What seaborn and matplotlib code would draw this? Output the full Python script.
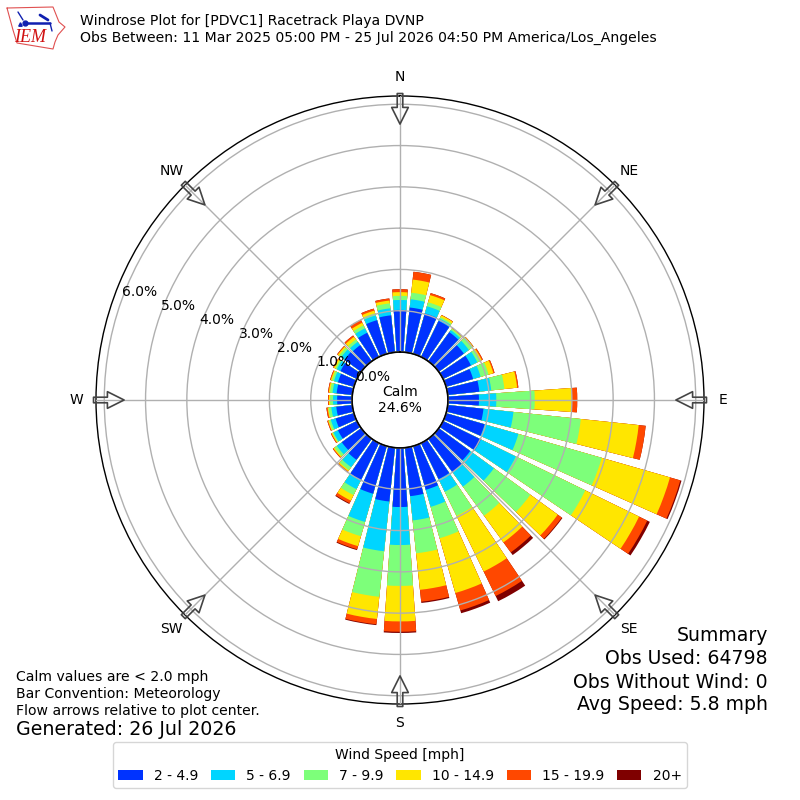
import numpy as np
import pandas as pd
import seaborn as sns
import matplotlib
matplotlib.use("Agg")
import matplotlib.pyplot as plt
from matplotlib.patches import Patch

# cumulative percent of obs per 10 degree bin, 0 to 350 clockwise from N
directions = list(range(0, 360, 10))
upto_5 = [1.02, 1.09, 1.02, .97, .87, .75, .75, .68, .77, .75, .87, .97,
          1.02, .94, 1.0, .97, 1.1, 1.18, 1.43, 1.31, 1.2, .99, .63, .58,
          .51, .46, .39, .36, .38, .40, .44, .50, .48, .65, .85, .9]
upto_7 = [1.26, 1.29, 1.20, 1.03, .93, .90, .92, .87, 1.06, 1.17, 1.6, 1.82,
          1.96, 1.65, 1.43, 1.31, 1.53, 1.77, 2.35, 2.52, 1.91, 1.24, .85, .73,
          .63, .58, .51, .46, .48, .50, .54, .60, .58, .77, .97, 1.07]
upto_10 = [1.36, 1.45, 1.30, 1.07, .97, 1.02, 1.0, 1.07, 1.38, 2.1, 3.24, 3.92,
           3.83, 2.74, 2.3, 1.96, 2.32, 2.57, 3.34, 3.63, 2.27, 1.4, .94, .8,
           .66, .63, .58, .53, .54, .55, .58, .66, .65, .85, 1.02, 1.19]
upto_15 = [1.45, 1.77, 1.48, 1.12, .98, 1.03, 1.04, 1.19, 1.69, 3.0, 4.65, 5.64,
           5.28, 3.56, 3.1, 3.46, 3.7, 3.46, 4.2, 4.17, 2.52, 1.55, .97, .83,
           .68, .65, .6, .56, .57, .58, .62, .70, .73, .92, 1.09, 1.26]
upto_20 = [1.52, 1.96, 1.53, 1.13, .99, 1.04, 1.07, 1.22, 1.72, 3.13, 4.82, 5.9,
           5.5, 3.68, 3.4, 4.12, 4.14, 3.75, 4.45, 4.3, 2.6, 1.62, 1.0, .85,
           .7, .67, .63, .58, .59, .60, .64, .72, .77, 1.0, 1.14, 1.31]
upto_all = [1.52, 1.96, 1.53, 1.13, .99, 1.04, 1.07, 1.22, 1.72, 3.13, 4.82, 5.93,
            5.57, 3.70, 3.48, 4.26, 4.21, 3.78, 4.48, 4.32, 2.62, 1.64, 1.0, .85,
            .7, .67, .63, .58, .59, .60, .64, .72, .77, 1.0, 1.14, 1.31]

speed_labels = ["2 - 4.9", "5 - 6.9", "7 - 9.9", "10 - 14.9", "15 - 19.9", "20+"]
speed_colors = ["#0033ff", "#00d5ff", "#7dff7a", "#ffe600", "#ff4800", "#7f0000"]
compass = ["N", "NE", "E", "SE", "S", "SW", "W", "NW"]
rings = [0, 1, 2, 3, 4, 5, 6]

sns.set_theme(style="white", context="notebook", font="DejaVu Sans", rc={
    "font.size": 10, "axes.labelsize": 10, "xtick.labelsize": 10,
    "ytick.labelsize": 10, "text.color": "black", "xtick.color": "black",
    "ytick.color": "black",
})

fig = plt.figure(figsize=(8, 8), dpi=100)
ax = fig.add_axes([0.12, 0.12, 0.76, 0.76], projection="polar")

theta = np.deg2rad(directions)
df = pd.DataFrame({"theta": theta, "2 - 4.9": upto_5, "5 - 6.9": upto_7,
                   "7 - 9.9": upto_10, "10 - 14.9": upto_15,
                   "15 - 19.9": upto_20, "20+": upto_all})

# bars are cumulative so draw the tallest first, shorter ones go on top
for label, color in reversed(list(zip(speed_labels, speed_colors))):
    sns.barplot(data=df, x="theta", y=label, native_scale=True, color=color,
                saturation=1, errorbar=None, width=0.8, linewidth=0, ax=ax)

ax.set_theta_zero_location("N")
ax.set_theta_direction(-1)
ax.set_ylim(0, 6.2)
ax.set_rorigin(-1.162)
ax.set_xlabel("")
ax.set_ylabel("")
ax.set_axisbelow(False)
ax.grid(True, color="#b0b0b0", linewidth=1)
ax.set_thetagrids(np.arange(0, 360, 45), compass)
ax.set_rgrids(rings, [f"{r:.1f}%" for r in rings], angle=290)
ax.tick_params(axis="x", pad=1)
ax.spines["polar"].set_color("black")
ax.spines["polar"].set_linewidth(1)

# edge of the calm circle
circle_t = np.linspace(0, 2 * np.pi, 200)
ax.plot(circle_t, np.zeros_like(circle_t), color="black", lw=1, clip_on=False, zorder=4)
ax.text(0, -1.162, "Calm\n24.6%", ha="center", va="center", fontsize=10, zorder=5)

# flow arrows on the eight compass points
for t in np.deg2rad(np.arange(0, 360, 45)):
    ax.annotate("", xy=(t, 5.52), xytext=(t, 6.26), annotation_clip=False,
                arrowprops=dict(facecolor="none", edgecolor="#444444", linewidth=1.2,
                                width=4, headwidth=12, headlength=12, shrink=0))

# header
fig.text(0.1, 0.974, "Windrose Plot for [PDVC1] Racetrack Playa DVNP", fontsize=10.1, va="center")
fig.text(0.1, 0.9525, "Obs Between: 11 Mar 2025 05:00 PM - 25 Jul 2026 04:50 PM America/Los_Angeles",
         fontsize=10.1, va="center")

# rough IEM logo
logo = fig.add_axes([0, 1 - 52 / 800, 68 / 800, 52 / 800])
logo.set_xlim(0, 68)
logo.set_ylim(52, 0)
logo.axis("off")
iowa_x = [7, 53, 57, 59, 65, 58, 55, 53, 17, 13, 7]
iowa_y = [8, 7, 17, 22, 27, 35, 42, 49, 43, 30, 8]
logo.plot(iowa_x, iowa_y, color="#e05050", lw=0.8)
logo.plot([25, 50], [23, 23], color="#1020b0", lw=1.8)
logo.plot([40, 48], [15, 20], color="#1020b0", lw=2)
logo.plot([18, 23], [12, 20], color="#1020b0", lw=1)
logo.plot([25], [23], "o", color="#1020b0", ms=3.5)
logo.plot([20], [24], "^", color="#1020b0", ms=2.5)
logo.plot([50, 52], [23, 31], color="#1020b0", lw=1)
logo.text(30, 38, "IEM", color="#d01010", fontsize=13, style="italic",
          family="Liberation Serif", ha="center", va="center")

# summary block
fig.text(0.96, 0.2055, "Summary", fontsize=13.6, ha="right", va="center")
fig.text(0.96, 0.1765, "Obs Used: 64798", fontsize=13.6, ha="right", va="center")
fig.text(0.96, 0.1475, "Obs Without Wind: 0", fontsize=13.6, ha="right", va="center")
fig.text(0.96, 0.119, "Avg Speed: 5.8 mph", fontsize=13.6, ha="right", va="center")

fig.text(0.02, 0.154, "Calm values are < 2.0 mph", fontsize=10.1, va="center")
fig.text(0.02, 0.133, "Bar Convention: Meteorology", fontsize=10.1, va="center")
fig.text(0.02, 0.1115, "Flow arrows relative to plot center.", fontsize=10.1, va="center")
fig.text(0.02, 0.0885, "Generated: 26 Jul 2026", fontsize=13.7, va="center")

handles = [Patch(facecolor=c, edgecolor="none", label=l) for l, c in zip(speed_labels, speed_colors)]
fig.legend(handles=handles, title="Wind Speed [mph]", ncol=6, fontsize=10, title_fontsize=10,
           loc="lower center", bbox_to_anchor=(0.5, 0.006), frameon=True,
           edgecolor="#cccccc", facecolor="white", framealpha=0.8, handlelength=1.75,
           columnspacing=0.92)

fig.savefig("out.png", dpi=100)
plt.close(fig)
